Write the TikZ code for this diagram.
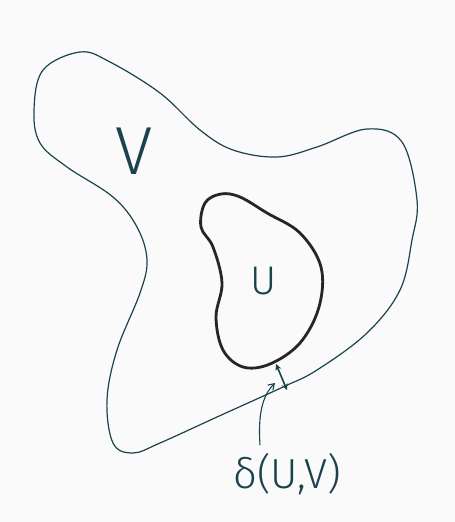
\documentclass[tikz,border=0pt]{standalone}
\usepackage{fontspec}
\setmainfont{Fira Sans}
\newfontfamily\lightfont{Fira Sans Light}
\usetikzlibrary{arrows.meta,positioning}
\definecolor{inkteal}{RGB}{28,66,78}
\definecolor{paper}{RGB}{250,250,250}
\tikzset{
  outerset/.style = {draw=inkteal, line width=1.2pt},
  innerset/.style = {draw=black!85, line width=2.8pt, line join=round},
  setlab/.style   = {text=inkteal, inner sep=0pt},
  gap/.style      = {{Stealth[length=2.2mm,width=2.2mm]}-{Stealth[length=2.2mm,width=2.2mm]},
                     draw=inkteal, line width=1.6pt},
  pointer/.style  = {-{Straight Barb[length=2mm,width=2.6mm]}, draw=inkteal, line width=1.1pt},
}
\begin{document}
\begin{tikzpicture}[x=1pt,y=-1pt]
  \fill[paper] (0,0) rectangle (455,522);
  \useasboundingbox (0,0) rectangle (455,522);

  % outer set V
  \draw[outerset] plot[smooth cycle, tension=0.6] coordinates {
    (80,52) (110,62) (160,93) (200,130) (233,150) (277,157) (317,147)
    (367,129) (402,142) (417,200) (412,240) (400,290) (367,333) (317,370)
    (283,387) (217,417) (160,443) (133,453) (113,443) (107,400) (117,350)
    (140,293) (147,260) (137,227) (113,197) (67,167) (40,143) (34,110) (43,70)};

  % inner set U
  \draw[innerset] plot[smooth cycle, tension=0.6] coordinates {
    (221,194) (205,203) (201,227) (213,247) (222,283) (216,317) (223,350)
    (243,367) (270,364) (300,343) (319,307) (321,267) (300,233) (267,213) (240,197)};

  \node[setlab, font=\lightfont\fontsize{68}{68}\selectfont] (Vlab) at (134,151) {V};
  \node[setlab, font=\lightfont\fontsize{40}{40}\selectfont] (Ulab) at (264,281) {U};
  \node[setlab, font=\lightfont\fontsize{42}{42}\selectfont] (dlab) at (287,474) {δ(U,V)};

  \coordinate (Uedge) at (276,364);
  \coordinate (Vedge) at (287,390);
  \coordinate (tail)  at (260,445);
  \coordinate (tip)   at (275,383);

  \draw[gap] (Uedge) -- (Vedge);
  \draw[pointer] (tail) .. controls (258,415) and (262,396) .. (tip);
\end{tikzpicture}
\end{document}
